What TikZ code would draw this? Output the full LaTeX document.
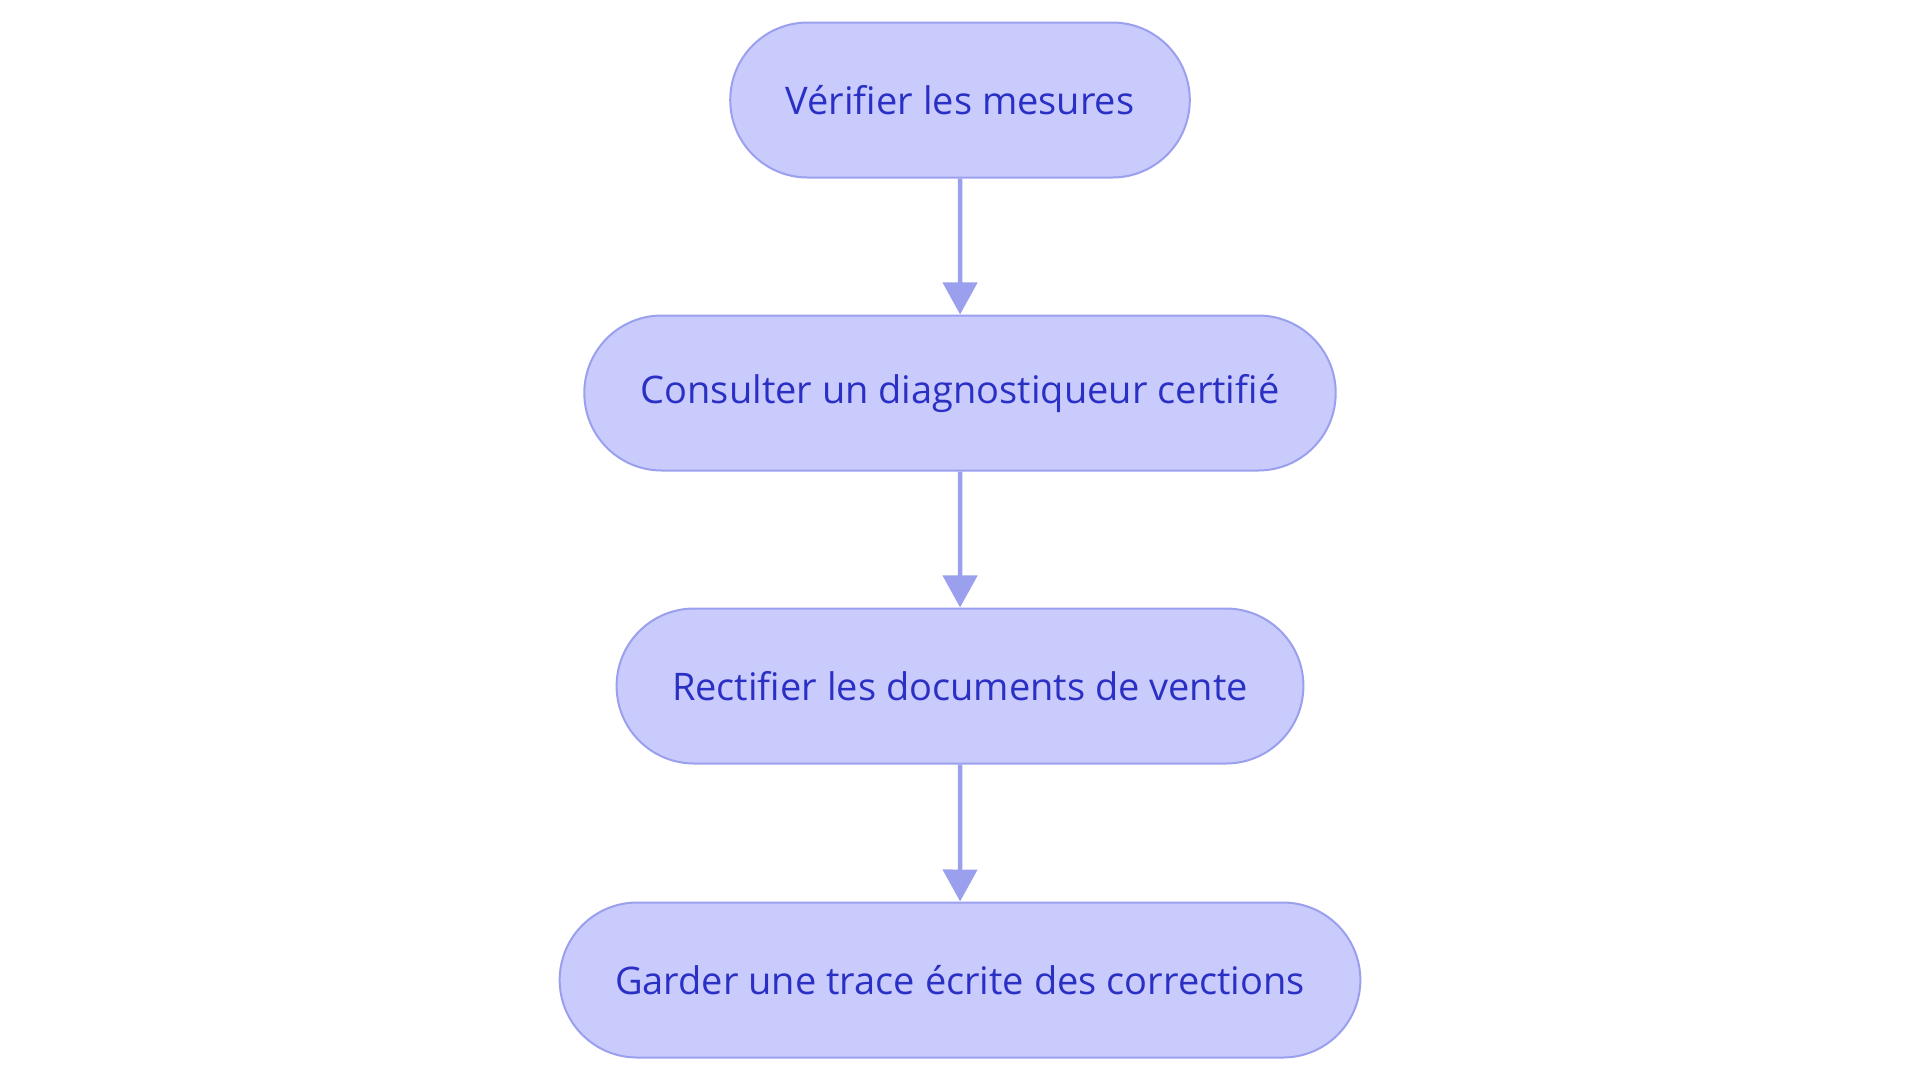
\documentclass[tikz,border=0pt]{standalone}
\usepackage{fontspec}
\setmainfont{Open Sans}
\usetikzlibrary{arrows.meta,shapes.misc}

\definecolor{stepfill}{HTML}{C9CBFD}
\definecolor{stepline}{HTML}{9A9FEE}
\definecolor{steptext}{HTML}{2B30C4}

\tikzset{
  stepbox/.style={rounded rectangle, draw=stepline, fill=stepfill, line width=1pt,
    text=steptext, minimum height=77.5pt, inner xsep=27pt,
    font=\fontsize{19}{22}\selectfont},
  flow/.style={draw=stepline, line width=2.2pt, -{Triangle[length=16pt,width=17pt]}}
}

\begin{document}
\begin{tikzpicture}[x=0.5pt,y=-0.5pt]
        \useasboundingbox (0,0) rectangle (1920,1083);

        % steps
        \node[stepbox] (verif) at (960,100) {Vérifier les mesures};
        \node[stepbox] (consult) at (960,393) {Consulter un diagnostiqueur certifié};
        \node[stepbox] (rectif) at (960,686) {Rectifier les documents de vente};
        \node[stepbox] (trace) at (960,980) {Garder une trace écrite des corrections};

        % arrows
        \draw[flow] (verif) -- (consult);
        \draw[flow] (consult) -- (rectif);
        \draw[flow] (rectif) -- (trace);
    \end{tikzpicture}
\end{document}
